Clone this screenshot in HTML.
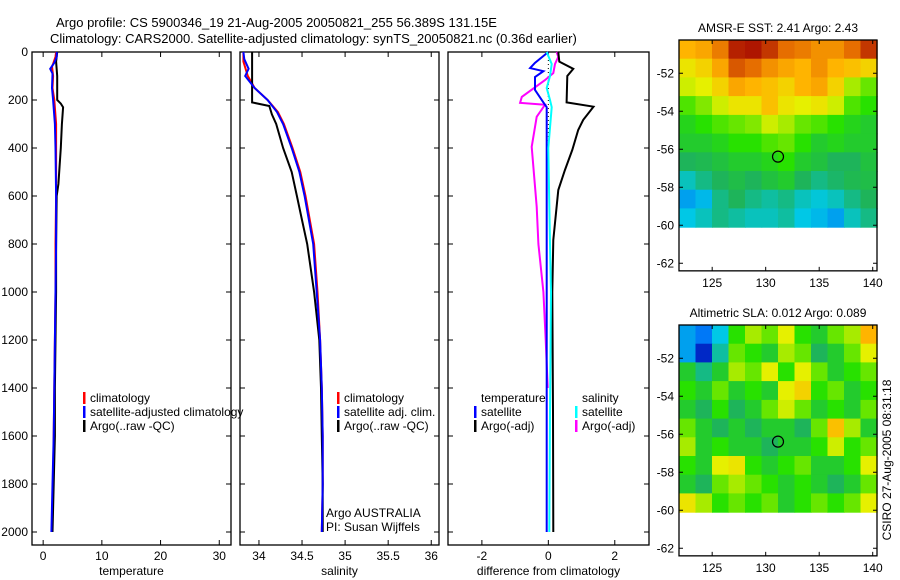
<!DOCTYPE html>
<html><head><meta charset="utf-8">
<style>
html,body{margin:0;padding:0;background:#fff;}
svg{display:block;font-family:"Liberation Sans",sans-serif;}
text{font-size:12px;fill:#000;}
</style></head>
<body>
<svg id="chart" width="900" height="580" viewBox="0 0 900 580">
<text x="56" y="27" style="font-size:13px">Argo profile: CS 5900346_19 21-Aug-2005 20050821_255 56.389S 131.15E</text>
<text x="50" y="43" style="font-size:13px">Climatology: CARS2000. Satellite-adjusted climatology: synTS_20050821.nc (0.36d earlier)</text>
<g id="g"></g>
<text transform="translate(891,460) rotate(-90)" text-anchor="middle">CSIRO 27-Aug-2005 08:31:18</text>
</svg>
<script>
// ---- data ----
const depthTicks=[0,200,400,600,800,1000,1200,1400,1600,1800,2000];
const tempTicks=[0,10,20,30];
const salTicks=[34,34.5,35,35.5,36];
const diffTicks=[-2,0,2];
// temperature profiles [depth,value]
const tClimD=[0,20,50,60,100,150,200,300,400,600,800,1000,1200,1400,1600,1800,2000];
const tClimV=[2.2,2.1,1.7,1.5,1.7,1.6,1.9,2.2,2.2,2.2,2.1,2.1,2.0,1.9,1.8,1.7,1.5];
const tSatD=[0,20,45,70,90,150,200,300,400,600,800,1000,1200,1400,1600,1800,2000];
const tSatV=[2.3,2.3,1.9,1.2,1.6,1.5,1.7,2.0,2.1,2.2,2.2,2.1,2.0,1.9,1.8,1.6,1.4];
const tArgoD=[0,40,100,200,215,230,300,400,550,600,800,1000,1200,1400,1600,1800,2000];
const tArgoV=[2.4,2.2,2.4,2.4,3.0,3.4,3.2,3.0,2.6,2.3,2.2,2.2,2.1,2.0,2.0,1.8,1.6];
// salinity profiles
const sClimD=[0,40,100,150,200,250,300,400,500,600,800,1000,1200,1400,1600,1800,2000];
const sClimV=[33.82,33.82,33.87,33.95,34.1,34.22,34.29,34.39,34.48,34.54,34.64,34.68,34.71,34.73,34.74,34.74,34.73];
const sSatD=[0,30,70,100,150,200,250,300,400,500,600,800,1000,1200,1400,1600,1800,2000];
const sSatV=[33.82,33.83,33.88,33.84,33.95,34.1,34.21,34.28,34.38,34.47,34.53,34.63,34.67,34.71,34.73,34.74,34.74,34.73];
const sArgoD=[0,100,210,225,260,300,400,500,600,700,800,1000,1200,1400,1600,1800,2000];
const sArgoV=[33.92,33.92,33.92,34.12,34.15,34.2,34.28,34.38,34.44,34.5,34.56,34.64,34.7,34.72,34.73,34.74,34.74];
// differences
const dTArgoD=[0,40,70,100,210,228,283,325,408,492,575,783,1000,1500,2000];
const dTArgoV=[0.3,0.33,0.75,0.57,0.55,1.36,1.05,0.9,0.72,0.5,0.3,0.15,0.12,0.14,0.15];
const dSArgoD=[0,20,50,88,117,187,212,220,270,395,645,800,1000,1200,1400];
const dSArgoV=[0.25,0.3,0.2,0.15,-0.1,-0.8,-0.85,-0.1,-0.35,-0.5,-0.35,-0.3,-0.15,-0.08,-0.02];
const dTSatD=[0,45,67,80,104,158,210,230,500,1000,1500,2000];
const dTSatV=[0.0,-0.4,-0.55,-0.15,-0.4,-0.4,-0.15,-0.05,-0.05,-0.05,-0.05,-0.05];
const dSSatD=[0,50,100,150,200,230,400,800,1000,1500,2000];
const dSSatV=[-0.05,0.1,0.05,-0.05,0.05,0.1,0.0,0.05,0.08,0.05,0.03];
// maps (rows north->south, lat -50.2..-60.1; cols lon 122..140.4), normalized 0..1
const sstGrid=[
[.8,.82,.88,.97,.98,.95,.9,.88,.85,.85,.9,.95],
[.72,.75,.82,.92,.9,.85,.82,.8,.85,.8,.78,.75],
[.68,.7,.75,.82,.8,.78,.75,.8,.82,.75,.65,.6],
[.58,.62,.68,.72,.72,.78,.72,.7,.72,.68,.58,.55],
[.52,.55,.58,.6,.62,.68,.65,.6,.58,.55,.52,.5],
[.5,.5,.52,.55,.55,.58,.6,.55,.5,.52,.5,.5],
[.45,.46,.48,.5,.5,.52,.55,.5,.48,.45,.45,.48],
[.38,.42,.45,.47,.45,.48,.5,.45,.42,.44,.46,.47],
[.3,.33,.42,.45,.42,.4,.42,.38,.36,.38,.42,.45],
[.35,.38,.42,.4,.38,.38,.4,.35,.33,.3,.38,.42]];
const slaGrid=[
[.3,.25,.35,.55,.65,.6,.7,.55,.5,.6,.65,.8],
[.3,.1,.4,.6,.55,.5,.65,.6,.45,.5,.6,.7],
[.5,.42,.5,.65,.6,.7,.55,.7,.6,.5,.55,.6],
[.55,.5,.6,.5,.55,.5,.7,.75,.55,.6,.5,.55],
[.5,.45,.55,.45,.5,.6,.68,.6,.5,.55,.5,.6],
[.6,.5,.45,.5,.45,.5,.5,.45,.6,.78,.65,.5],
[.65,.5,.55,.5,.5,.45,.5,.5,.55,.68,.55,.6],
[.55,.5,.7,.72,.55,.5,.55,.6,.5,.5,.55,.7],
[.5,.45,.6,.65,.6,.55,.5,.55,.5,.45,.5,.6],
[.72,.65,.55,.6,.55,.6,.5,.55,.6,.55,.6,.7]];
const argoLon=131.15, argoLat=-56.389;
const lonTicks=[125,130,135,140];
const latTicks=[-52,-54,-56,-58,-60,-62];

// ---- drawing ----
const NS='http://www.w3.org/2000/svg';
const G=document.getElementById('g');
function el(t,a,p){const e=document.createElementNS(NS,t);for(const k in a)e.setAttribute(k,a[k]);(p||G).appendChild(e);return e;}
const Y0=52,PXM=0.24,YB=545;
const yD=d=>Y0+d*PXM;
const panels=[
 {x0:32,x1:231,v0:-1.9,v1:32,ticks:tempTicks,label:'temperature',name:'temperature-panel',lab:true},
 {x0:240,x1:439,v0:33.78,v1:36.09,ticks:salTicks,label:'salinity',name:'salinity-panel'},
 {x0:448,x1:649,v0:-3.02,v1:3.03,ticks:diffTicks,label:'difference from climatology',name:'difference-panel'}];
panels.forEach(p=>{p.sx=v=>p.x0+(v-p.v0)/(p.v1-p.v0)*(p.x1-p.x0);});
function axes(p){
 const g=el('g',{});
 
 
 el('rect',{x:p.x0,y:Y0,width:p.x1-p.x0,height:YB-Y0,fill:'none',stroke:'#000','stroke-width':1.3},g);
 p.ticks.forEach(t=>{const x=p.sx(t);
  el('line',{x1:x,x2:x,y1:Y0,y2:Y0+5,stroke:'#000'},g);el('line',{x1:x,x2:x,y1:YB,y2:YB-5,stroke:'#000'},g);
  const tx=el('text',{x:x,y:YB+15,'text-anchor':'middle'},g);tx.textContent=t;
  
  });
 depthTicks.forEach(d=>{const y=yD(d);
  el('line',{x1:p.x0,x2:p.x0+5,y1:y,y2:y,stroke:'#000'},g);el('line',{x1:p.x1,x2:p.x1-5,y1:y,y2:y,stroke:'#000'},g);
  if(p.lab){const tx=el('text',{x:p.x0-4,y:y+4,'text-anchor':'end'},g);tx.textContent=d;
   
   }});
 const xl=el('text',{x:(p.x0+p.x1)/2,y:YB+30,'text-anchor':'middle'},g);xl.textContent=p.label;
 
 
}
panels.forEach(axes);
function line(p,D,V,c,name,w){
 const pts=D.map((d,i)=>p.sx(V[i]).toFixed(1)+','+yD(d).toFixed(1)).join(' ');
 const e=el('polyline',{points:pts,fill:'none',stroke:c,'stroke-width':w||2});
 
 
}
line(panels[0],tClimD,tClimV,'#f00','temp-climatology-line');
line(panels[0],tArgoD,tArgoV,'#000','temp-argo-line');
line(panels[0],tSatD,tSatV,'#00f','temp-satellite-line');
line(panels[1],sClimD,sClimV,'#f00','sal-climatology-line');
line(panels[1],sArgoD,sArgoV,'#000','sal-argo-line');
line(panels[1],sSatD,sSatV,'#00f','sal-satellite-line');
const z=el('line',{x1:panels[2].sx(0),x2:panels[2].sx(0),y1:Y0,y2:yD(400),stroke:'#000','stroke-dasharray':'1,3'});


line(panels[2],dSArgoD,dSArgoV,'#f0f','diff-sal-argo-line');
line(panels[2],dTArgoD,dTArgoV,'#000','diff-temp-argo-line');
line(panels[2],dTSatD,dTSatV,'#00f','diff-temp-satellite-line');
line(panels[2],dSSatD,dSSatV,'#0ff','diff-sal-satellite-line');

function legend(x,y,items,name){
 const g=el('g',{});
 
 
 items.forEach((it,i)=>{const yy=y+i*14;
  if(it[1])el('rect',{x:x,y:yy-10,width:2.5,height:12,fill:it[1]},g);
  const t=el('text',{x:x+7,y:yy},g);t.textContent=it[0];});
}
legend(83,402,[['climatology','#f00'],['satellite-adjusted climatology','#00f'],['Argo(..raw -QC)','#000']],'temperature-legend');
legend(337,402,[['climatology','#f00'],['satellite adj. clim.','#00f'],['Argo(..raw -QC)','#000']],'salinity-legend');
legend(474,402,[['temperature',null],['satellite','#00f'],['Argo(-adj)','#000']],'diff-temp-legend');
legend(575,402,[['salinity',null],['satellite','#0ff'],['Argo(-adj)','#f0f']],'diff-sal-legend');
const a1=el('text',{x:326,y:517});a1.textContent='Argo AUSTRALIA';


const a2=el('text',{x:326,y:531});a2.textContent='PI: Susan Wijffels';



// maps
const stops=[[0,[0,0,140]],[.2,[0,80,255]],[.35,[0,200,230]],[.45,[30,180,90]],[.55,[40,225,0]],[.7,[230,240,0]],[.8,[255,180,0]],[.9,[230,110,0]],[1,[160,0,0]]];
function col(v){for(let i=1;i<stops.length;i++){if(v<=stops[i][0]){const a=stops[i-1],b=stops[i],t=(v-a[0])/(b[0]-a[0]);
 return 'rgb('+a[1].map((c,k)=>Math.round(c+(b[1][k]-c)*t)).join(',')+')';}}return 'rgb(160,0,0)';}
function map(top,grid,title,name){
 const x0=679,x1=877,L0=121.9,L1=140.4,lat0=-50.25,yTop=top;
 const sx=l=>x0+(l-L0)/(L1-L0)*(x1-x0);
 const sy=la=>yTop+(lat0-la)*19;
 const yBot=sy(-62.4);
 const g=el('g',{});
 
 
 const rows=grid.length,cols=grid[0].length,latEnd=-60.1;
 const dLat=(lat0-latEnd)/rows,dLon=(L1-L0)/cols;
 grid.forEach((r,i)=>r.forEach((v,j)=>{
  const c=el('rect',{x:sx(L0+j*dLon).toFixed(1),y:sy(lat0-i*dLat).toFixed(1),width:(dLon*10.75+0.6).toFixed(1),height:(dLat*19+0.6).toFixed(1),fill:col(v)},g);
  
  
 }));
 el('rect',{x:x0,y:yTop,width:x1-x0,height:yBot-yTop,fill:'none',stroke:'#000','stroke-width':1.3},g);
 lonTicks.forEach(l=>{const x=sx(l);el('line',{x1:x,x2:x,y1:yTop,y2:yTop+4,stroke:'#000'},g);el('line',{x1:x,x2:x,y1:yBot,y2:yBot-4,stroke:'#000'},g);
  const t=el('text',{x:x,y:yBot+16,'text-anchor':'middle'},g);t.textContent=l;});
 latTicks.forEach(la=>{const y=sy(la);el('line',{x1:x0,x2:x0+4,y1:y,y2:y,stroke:'#000'},g);el('line',{x1:x1,x2:x1-4,y1:y,y2:y,stroke:'#000'},g);
  const t=el('text',{x:x0-5,y:y+4,'text-anchor':'end'},g);t.textContent=la;});
 const tt=el('text',{x:(x0+x1)/2,y:yTop-8,'text-anchor':'middle'},g);tt.textContent=title;
 const c=el('circle',{cx:sx(argoLon),cy:sy(argoLat),r:5.5,fill:'none',stroke:'#000','stroke-width':1.2},g);
 
 
}
map(40,sstGrid,'AMSR-E SST: 2.41 Argo: 2.43','sst-map');
map(325,slaGrid,'Altimetric SLA: 0.012 Argo: 0.089','sla-map');
</script>
</body></html>
